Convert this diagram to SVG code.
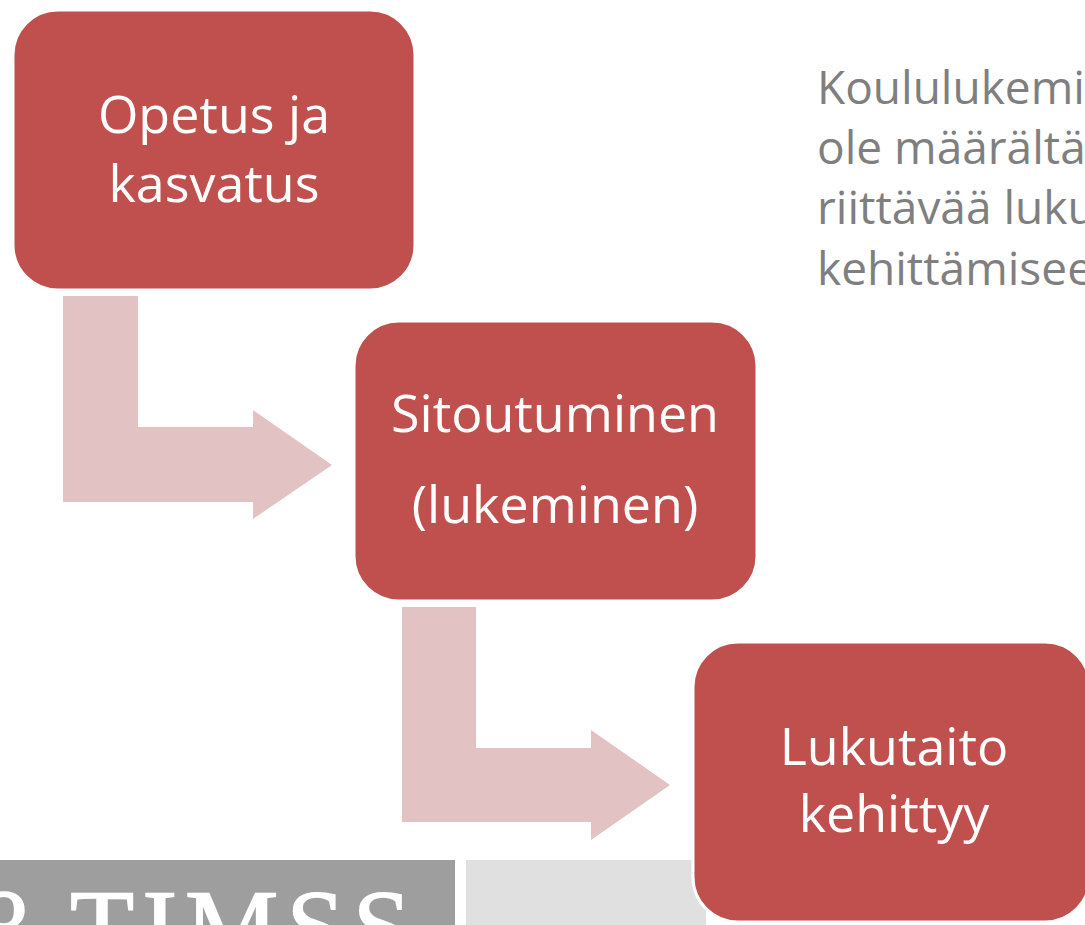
<svg xmlns="http://www.w3.org/2000/svg" width="1085" height="925" viewBox="0 0 1085 925">
<style>
.box{fill:#C0504D;stroke:#FFFFFF;stroke-width:3}
.lbl{font-family:"Open Sans","Liberation Sans",sans-serif;font-size:52px;fill:#FFFFFF;text-anchor:middle}
.arrow{fill:#E2C2C3}
.side{font-family:"Open Sans","Liberation Sans",sans-serif;font-size:46px;fill:#7F7F7F}
.logo{font-family:"Liberation Serif","Times New Roman",serif;font-size:105px;fill:#FFFFFF;stroke:#FFFFFF;stroke-width:1.5}
</style>
<rect width="1085" height="925" fill="#FFFFFF"/>
<g id="footer">
<rect x="0" y="860" width="455" height="65" fill="#9E9E9E"/>
<rect x="466" y="860" width="240" height="65" fill="#E0E0E0"/>
<text class="logo" x="30" y="963" text-anchor="end">8</text>
<text class="logo" x="70" y="963" letter-spacing="8">TIMSS</text>
</g>
<g id="connectors">
<path class="arrow" d="M63,296 L138,296 L138,427 L253,427 L253,410 L332,465 L253,519 L253,502 L63,502 Z"/>
<path class="arrow" d="M402,607 L476,607 L476,748 L591,748 L591,730 L670,785 L591,840 L591,822 L402,822 Z"/>
</g>
<g id="node-opetus">
<rect class="box" x="13" y="10" width="402" height="280" rx="45" ry="45"/>
<text class="lbl" x="214" y="133">Opetus ja</text>
<text class="lbl" x="214" y="202">kasvatus</text>
</g>
<g id="node-sitoutuminen">
<rect class="box" x="354" y="321" width="403" height="280" rx="45" ry="45"/>
<text class="lbl" x="555" y="432">Sitoutuminen</text>
<text class="lbl" x="555" y="523">(lukeminen)</text>
</g>
<g id="node-lukutaito">
<rect class="box" x="693" y="642" width="397" height="280" rx="45" ry="45"/>
<text class="lbl" x="894" y="765">Lukutaito</text>
<text class="lbl" x="894" y="832">kehittyy</text>
</g>
<g id="side-text">
<text class="side" x="817" y="104">Koululukemi</text>
<text class="side" x="817" y="164">ole määrältä</text>
<text class="side" x="817" y="224">riittävää luku</text>
<text class="side" x="817" y="285">kehittämisee</text>
</g>
</svg>
